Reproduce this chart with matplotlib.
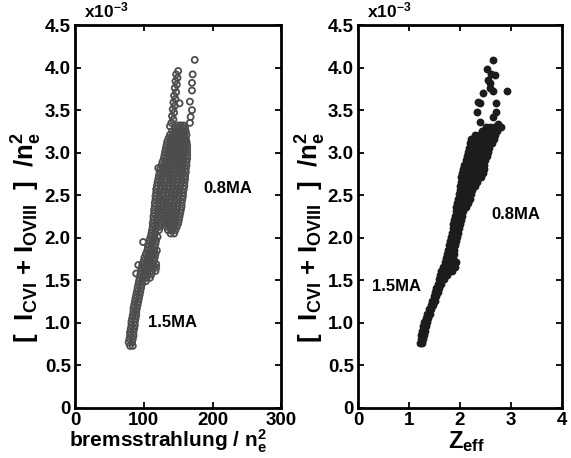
import matplotlib
matplotlib.use("Agg")
import matplotlib.pyplot as plt

plt.rcParams['font.family'] = ['Liberation Sans', 'DejaVu Sans']
plt.rcParams['font.weight'] = 'bold'
plt.rcParams['mathtext.fontset'] = 'custom'
plt.rcParams['mathtext.rm'] = 'Liberation Sans:bold'
plt.rcParams['mathtext.bf'] = 'Liberation Sans:bold'
plt.rcParams['mathtext.it'] = 'Liberation Sans:bold'

# ---------------- data (y values in units of 1e-3) ----------------
# Left panel: bremsstrahlung / ne^2  vs  [I_CVI + I_OVIII]/ne^2
left_band_rows = [
    (0.73, [80, 84]), (0.77, [78, 83]), (0.81, [79, 84]), (0.85, [80, 85]),
    (0.89, [80, 85]), (0.93, [81, 86]), (0.97, [82, 87]), (1.01, [82, 87]),
    (1.05, [83, 88]), (1.09, [84, 89]), (1.13, [85, 89]), (1.17, [85, 90]),
    (1.21, [86, 91]), (1.25, [87, 92]), (1.29, [88, 93]), (1.33, [89, 94]),
    (1.37, [90, 95]), (1.41, [91, 96]), (1.45, [92, 97]), (1.49, [93, 98, 103]),
    (1.53, [94, 99, 104, 109]), (1.57, [95, 100, 105, 111]),
    (1.61, [96, 101, 106, 112, 117]), (1.65, [97, 102, 108, 113, 118]),
    (1.69, [98, 104, 109, 114, 118]), (1.73, [100, 105, 110, 115]),
    (1.77, [101, 106, 111, 116]), (1.81, [103, 108, 113, 117]),
    (1.85, [105, 110, 115, 119]), (1.89, [106, 111, 116]),
    (1.93, [107, 112, 117]), (1.97, [108, 113, 118]), (2.01, [110, 115, 120]),
]
left_cloud_rows = [
    (2.05, [111, 116, 139, 144]),
    (2.09, [112, 117, 122, 135, 140, 146]),
    (2.13, [113, 118, 123, 133, 138, 143, 148]),
    (2.17, [113, 118, 124, 129, 134, 139, 145, 150]),
    (2.21, [114, 119, 125, 130, 135, 141, 146, 151]),
    (2.25, [114, 120, 125, 131, 136, 142, 147, 152]),
    (2.29, [115, 120, 126, 131, 137, 142, 148, 153]),
    (2.33, [115, 121, 126, 132, 137, 143, 148, 154]),
    (2.37, [116, 121, 127, 132, 138, 143, 149, 155]),
    (2.41, [116, 122, 127, 133, 138, 144, 150, 155]),
    (2.45, [117, 122, 128, 133, 139, 145, 150, 156]),
    (2.49, [117, 123, 128, 134, 140, 145, 151, 157]),
    (2.53, [118, 123, 129, 135, 140, 146, 152, 157]),
    (2.57, [118, 124, 130, 135, 141, 147, 152, 158]),
    (2.61, [119, 125, 130, 136, 142, 147, 153, 159]),
    (2.65, [120, 125, 131, 137, 142, 148, 154, 159]),
    (2.69, [121, 126, 132, 138, 143, 149, 155, 160]),
    (2.73, [122, 127, 133, 138, 144, 150, 155, 160]),
    (2.77, [123, 128, 134, 139, 145, 150, 156, 161]),
    (2.81, [124, 129, 135, 140, 146, 151, 156, 161]),
    (2.85, [126, 131, 136, 141, 147, 152, 157, 162]),
    (2.89, [127, 132, 137, 142, 147, 152, 157, 162]),
    (2.93, [129, 134, 139, 144, 149, 153, 158, 163]),
    (2.97, [130, 135, 140, 145, 149, 154, 158, 163]),
    (3.01, [131, 136, 141, 145, 150, 154, 159, 163]),
    (3.05, [132, 137, 141, 146, 150, 155, 159, 163]),
    (3.09, [133, 138, 142, 147, 151, 155, 159, 163]),
    (3.13, [134, 139, 143, 148, 152, 156, 160, 162]),
    (3.17, [136, 140, 145, 149, 153, 157, 161]),
    (3.21, [138, 142, 146, 150, 154, 158, 162]),
    (3.25, [141, 145, 149, 153, 157, 161]),
    (3.29, [145, 149, 153, 157, 160]),
    (3.32, [150, 154, 158]),
]
left_out_x = [150, 147, 149, 146, 148, 145, 147, 144, 146, 143, 145, 142, 144, 141,
              143, 140, 138, 152,
              174, 171, 170, 170, 167, 170, 168, 167,
              121, 99, 92, 89]
left_out_y = [3.96, 3.92, 3.88, 3.84, 3.80, 3.76, 3.71, 3.67, 3.63, 3.59, 3.55, 3.51,
              3.47, 3.43, 3.39, 3.35, 3.31, 3.58,
              4.09, 3.92, 3.82, 3.73, 3.60, 3.50, 3.42, 3.35,
              2.82, 1.95, 1.68, 1.58]

# Right panel: Zeff vs [I_CVI + I_OVIII]/ne^2
right_rows = [
    (0.76, [1.22, 1.25]), (0.81, [1.23, 1.28]), (0.86, [1.24, 1.29]),
    (0.91, [1.25, 1.31]), (0.96, [1.28, 1.33]), (1.01, [1.30, 1.35]),
    (1.06, [1.33, 1.38]), (1.11, [1.36, 1.41]), (1.16, [1.39, 1.44]),
    (1.21, [1.43, 1.48]), (1.26, [1.46, 1.51]), (1.31, [1.49, 1.54]),
    (1.36, [1.52, 1.57]), (1.41, [1.54, 1.60]), (1.46, [1.57, 1.63]),
    (1.51, [1.59, 1.65, 1.69]), (1.56, [1.61, 1.68, 1.74]),
    (1.61, [1.64, 1.71, 1.78, 1.85]), (1.66, [1.67, 1.74, 1.81, 1.90]),
    (1.71, [1.70, 1.77, 1.84, 1.92]), (1.76, [1.72, 1.79, 1.86]),
    (1.81, [1.74, 1.81, 1.88]), (1.86, [1.76, 1.83, 1.89]),
    (1.91, [1.78, 1.85, 1.90]), (1.96, [1.80, 1.87, 1.92]),
    (2.01, [1.82, 1.88, 1.94]), (2.06, [1.84, 1.90, 1.97]),
    (2.11, [1.86, 1.93, 1.99]), (2.16, [1.87, 1.94, 2.01]),
    (2.21, [1.89, 1.96, 2.03]), (2.26, [1.90, 1.97, 2.05]),
    (2.31, [1.92, 1.99, 2.07]), (2.36, [1.93, 2.01, 2.09, 2.13]),
    (2.41, [1.95, 2.03, 2.11, 2.17]), (2.46, [1.96, 2.04, 2.12, 2.20]),
    (2.51, [1.98, 2.06, 2.14, 2.22]), (2.56, [2.00, 2.08, 2.16, 2.24]),
    (2.61, [2.01, 2.09, 2.17, 2.25, 2.30]), (2.66, [2.02, 2.10, 2.18, 2.26, 2.34]),
    (2.71, [2.03, 2.11, 2.19, 2.27, 2.35, 2.41]),
    (2.76, [2.04, 2.12, 2.20, 2.28, 2.36, 2.45]),
    (2.81, [2.06, 2.14, 2.22, 2.30, 2.38, 2.47]),
    (2.86, [2.09, 2.17, 2.25, 2.33, 2.41, 2.48]),
    (2.91, [2.12, 2.20, 2.28, 2.36, 2.44, 2.49]),
    (2.96, [2.14, 2.22, 2.30, 2.38, 2.46, 2.53]),
    (3.01, [2.16, 2.24, 2.32, 2.40, 2.48, 2.56]),
    (3.06, [2.18, 2.26, 2.34, 2.42, 2.50, 2.58]),
    (3.11, [2.20, 2.28, 2.36, 2.44, 2.52, 2.60, 2.64]),
    (3.16, [2.23, 2.31, 2.39, 2.47, 2.55, 2.63, 2.67]),
    (3.21, [2.30, 2.38, 2.46, 2.54, 2.62, 2.70]),
    (3.26, [2.44, 2.52, 2.60, 2.68, 2.73]),
    (3.30, [2.52, 2.60, 2.68]),
]
right_out_x = [2.66, 2.54, 2.61, 2.69, 2.56, 2.59, 2.59, 2.66, 2.92, 2.46, 2.40,
               2.36, 2.72, 2.72, 2.66, 2.33, 2.40, 2.76, 2.82]
right_out_y = [4.09, 3.98, 3.92, 3.91, 3.85, 3.82, 3.76, 3.72, 3.72, 3.70, 3.58,
               3.60, 3.58, 3.48, 3.42, 3.48, 3.36, 3.34, 3.30]

yticks = [0, 0.5, 1.0, 1.5, 2.0, 2.5, 3.0, 3.5, 4.0, 4.5]
ytick_labels = ['0', '0.5', '1.0', '1.5', '2.0', '2.5', '3.0', '3.5', '4.0', '4.5']
left_xticks = [0, 100, 200, 300]
right_xticks = [0, 1, 2, 3, 4]


def expand(rows):
    xs, ys = [], []
    for y, row in rows:
        for x in row:
            xs.append(x)
            ys.append(y)
    return xs, ys


lbx, lby = expand(left_band_rows)
lcx, lcy = expand(left_cloud_rows)
rx, ry = expand(right_rows)

fig = plt.figure(figsize=(5.71, 4.58), dpi=100)
axL = fig.add_axes([0.1313, 0.1092, 0.3616, 0.8362])
axR = fig.add_axes([0.6270, 0.1092, 0.3564, 0.8362])

gray = '#4d4d4d'
for xs, ys in [(lbx, lby), (lcx, lcy), (left_out_x, left_out_y)]:
    axL.scatter(xs, ys, s=19, facecolors='none', edgecolors=gray, linewidths=1.3)
for xs, ys in [(rx, ry), (right_out_x, right_out_y)]:
    axR.scatter(xs, ys, s=32, color='#1c1c1c', linewidths=0)

ylab = r'[  $\mathbf{I_{CVI}}$ + $\mathbf{I_{OVIII}}$  ]  /$\mathbf{n_e^2}$'
for ax in (axL, axR):
    ax.set_ylim(0, 4.5)
    ax.set_yticks(yticks)
    ax.set_yticklabels(ytick_labels)
    ax.tick_params(direction='in', length=4, width=1.3, top=True, right=True,
                   labelsize=13.5, pad=3)
    for sp in ax.spines.values():
        sp.set_linewidth(2.0)
    ax.set_ylabel(ylab, fontsize=18.5, fontweight='bold')
    ax.yaxis.set_label_coords(-0.148, 0.445)
    ax.text(0.045, 1.012, r'x10$^{\mathbf{-3}}$', transform=ax.transAxes,
            fontsize=12.5, fontweight='bold', ha='left', va='bottom')
    for lab in ax.get_xticklabels() + ax.get_yticklabels():
        lab.set_fontweight('bold')

axL.set_xlim(0, 300)
axL.set_xticks(left_xticks)
axL.set_xlabel(r'bremsstrahlung / $\mathbf{n_e^2}$', fontsize=15, fontweight='bold')
axL.xaxis.set_label_coords(0.45, -0.052)
axL.text(186, 2.58, '0.8MA', fontsize=12, fontweight='bold', ha='left', va='center')
axL.text(106, 1.0, '1.5MA', fontsize=12, fontweight='bold', ha='left', va='center')

axR.set_xlim(0, 4)
axR.set_xticks(right_xticks)
axR.set_xlabel(r'$\mathbf{Z_{eff}}$', fontsize=17, fontweight='bold')
axR.xaxis.set_label_coords(0.535, -0.055)
axR.text(2.63, 2.27, '0.8MA', fontsize=12, fontweight='bold', ha='left', va='center')
axR.text(0.27, 1.43, '1.5MA', fontsize=12, fontweight='bold', ha='left', va='center')

fig.savefig('out.png', dpi=100)
